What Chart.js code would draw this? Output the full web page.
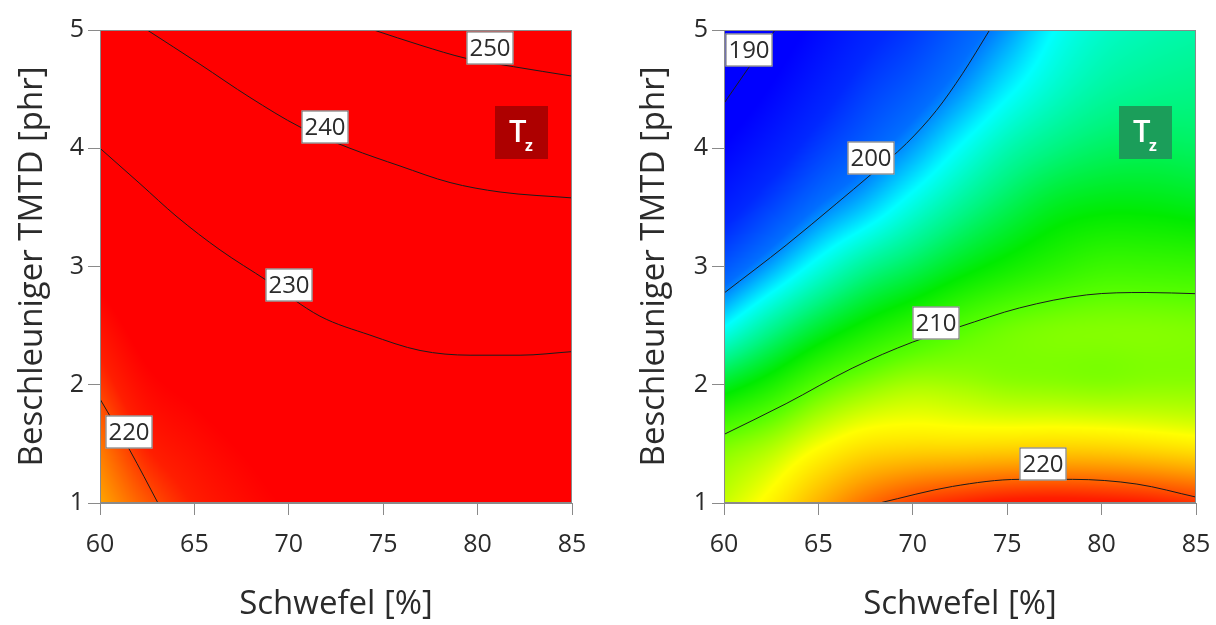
<!DOCTYPE html>
<html>
<head>
<meta charset="utf-8">
<script src="https://cdn.jsdelivr.net/npm/chart.js@4.4.1/dist/chart.umd.min.js"></script>
<style>
  html, body { margin: 0; padding: 0; background: #fff; }
  #wrap { position: relative; width: 1216px; height: 625px; overflow: hidden; }
  canvas { position: absolute; top: 0; }
  #left { left: 0; }
  #right { left: 608px; }
</style>
</head>
<body>
<div id="wrap">
  <canvas id="left" width="608" height="625"></canvas>
  <canvas id="right" width="618" height="625"></canvas>
</div>
<script>
// grid of the response surface
const schwefelGrid = [60, 62.5, 65, 67.5, 70, 72.5, 75, 77.5, 80, 82.5, 85];
const tmtdGrid = [1, 1.5, 2, 2.5, 3, 3.5, 4, 4.5, 5];
const xTicks = [60, 65, 70, 75, 80, 85];
const yTicks = [1, 2, 3, 4, 5];

// left panel, one row per TMTD value
const leftField = [
  [216.5, 219.4, 221.6, 223.0, 224.2, 225.0, 225.6, 226.0, 226.2, 226.2, 226.0],
  [218.3, 221.6, 223.0, 224.2, 225.3, 226.2, 226.8, 227.2, 227.4, 227.3, 227.1],
  [220.5, 223.4, 224.6, 225.7, 226.8, 227.7, 228.4, 228.6, 228.6, 228.6, 228.5],
  [222.6, 225.2, 226.4, 227.6, 228.8, 230.2, 231.1, 231.4, 231.6, 231.6, 231.2],
  [225.0, 227.2, 228.6, 230.0, 231.6, 233.4, 234.3, 234.9, 235.3, 235.5, 235.2],
  [227.5, 229.5, 231.4, 233.2, 235.0, 236.6, 237.6, 238.4, 238.9, 239.3, 239.4],
  [230.0, 232.4, 234.6, 236.6, 238.6, 239.7, 240.6, 242.1, 243.2, 243.8, 244.1],
  [232.5, 235.8, 238.2, 240.0, 242.2, 243.3, 245.0, 246.4, 247.8, 248.4, 248.9],
  [235.0, 240.0, 241.8, 243.5, 245.8, 247.6, 250.2, 251.3, 252.5, 253.2, 253.8],
];

// right panel, one row per TMTD value
const rightField = [
  [212.0, 213.5, 216.0, 218.5, 220.3, 221.3, 222.0, 222.2, 222.0, 221.6, 220.8],
  [210.5, 211.4, 212.8, 213.9, 214.2, 214.2, 214.3, 214.4, 214.3, 214.0, 213.6],
  [206.8, 208.2, 209.8, 210.8, 211.4, 211.3, 211.0, 210.9, 210.8, 210.9, 210.9],
  [202.2, 204.5, 206.4, 207.8, 208.8, 209.7, 210.3, 210.6, 210.7, 210.7, 210.6],
  [198.3, 200.6, 202.8, 204.6, 205.8, 207.0, 207.9, 208.6, 209.1, 209.1, 209.0],
  [195.0, 197.4, 199.6, 201.2, 203.0, 204.6, 205.9, 206.9, 207.3, 207.3, 207.1],
  [192.2, 194.6, 197.0, 198.8, 200.5, 202.4, 204.0, 205.0, 205.6, 205.8, 205.7],
  [189.6, 192.2, 194.8, 197.0, 198.5, 200.2, 202.0, 203.4, 204.3, 204.7, 204.9],
  [187.5, 190.1, 192.8, 195.2, 196.8, 198.6, 200.3, 202.3, 203.4, 203.9, 204.2],
];

// contour lines [schwefel, tmtd]
const left250 = [[74.5, 5], [77, 4.87], [79.4, 4.76], [81.9, 4.69], [85, 4.61]];
const left240 = [[62.5, 5], [65.3, 4.71], [67.94, 4.43], [70.59, 4.18], [73.24, 4.0], [75.89, 3.85], [78.54, 3.71], [81.19, 3.63], [85, 3.58]];
const left230 = [[60, 4.0], [62.12, 3.7], [64.08, 3.42], [66.36, 3.14], [68.85, 2.88], [71.65, 2.58], [74.3, 2.42], [76.95, 2.29], [79.6, 2.25], [82.25, 2.25], [85, 2.28]];
const left220 = [[60, 1.88], [61.6, 1.44], [63.07, 1.0]];

const right190 = [[60, 4.38], [61.3, 4.68], [62.7, 5]];
const right200 = [[60, 2.775], [63.29, 3.18], [65.94, 3.53], [67.8, 3.78], [69.66, 4.04], [71.25, 4.32], [72.63, 4.63], [74.07, 5]];
const right210 = [[60, 1.58], [63.29, 1.84], [66.79, 2.14], [69.98, 2.36], [72.47, 2.49], [75.66, 2.65], [79.21, 2.76], [82.4, 2.78], [85, 2.77]];
const right220 = [[68.23, 1.0], [72.1, 1.14], [75.66, 1.2], [78.47, 1.2], [81.87, 1.16], [85, 1.05]];

// contour labels
const leftLabelText = ["250", "240", "230", "220"];
const leftLabelX = [80.66, 71.9, 70.0, 61.54];
const leftLabelY = [4.85, 4.18, 2.84, 1.6];
const rightLabelText = ["190", "200", "210", "220"];
const rightLabelX = [61.3, 67.8, 71.23, 76.88];
const rightLabelY = [4.83, 3.92, 2.52, 1.33];

// rainbow colour scale used by both panels
const colorStops = [
  [192, 0, 0, 255],
  [196, 0, 40, 255],
  [199.5, 0, 110, 255],
  [202.3, 0, 255, 255],
  [205, 0, 245, 130],
  [207.5, 0, 235, 0],
  [210, 90, 255, 0],
  [213, 255, 255, 0],
  [216.5, 255, 165, 0],
  [219.5, 255, 85, 0],
  [221.5, 255, 30, 0],
  [224, 255, 0, 0],
];

const FONT = "'Open Sans', 'Noto Sans', sans-serif";
const TEXT = "#2b2b2b";

function colorFor(v) {
  if (v <= colorStops[0][0]) return colorStops[0].slice(1);
  for (let k = 1; k < colorStops.length; k++) {
    const b = colorStops[k];
    if (v <= b[0]) {
      const a = colorStops[k - 1];
      const t = (v - a[0]) / (b[0] - a[0]);
      return [a[1] + (b[1] - a[1]) * t, a[2] + (b[2] - a[2]) * t, a[3] + (b[3] - a[3]) * t];
    }
  }
  return colorStops[colorStops.length - 1].slice(1);
}

function cr(p0, p1, p2, p3, t) {
  return 0.5 * (2 * p1 + (-p0 + p2) * t + (2 * p0 - 5 * p1 + 4 * p2 - p3) * t * t + (-p0 + 3 * p1 - 3 * p2 + p3) * t * t * t);
}

function pick(arr, k) {
  const n = arr.length;
  if (k < 0) return 2 * arr[0] - arr[1];
  if (k >= n) return 2 * arr[n - 1] - arr[n - 2];
  return arr[k];
}

function sampleField(rows, xv, yv) {
  const nx = schwefelGrid.length, ny = tmtdGrid.length;
  const fx = Math.min(Math.max((xv - schwefelGrid[0]) / (schwefelGrid[1] - schwefelGrid[0]), 0), nx - 1);
  const fy = Math.min(Math.max((yv - tmtdGrid[0]) / (tmtdGrid[1] - tmtdGrid[0]), 0), ny - 1);
  const i = Math.min(Math.floor(fx), nx - 2);
  const j = Math.min(Math.floor(fy), ny - 2);
  const tx = fx - i, ty = fy - j;
  const col = [];
  for (let m = -1; m <= 2; m++) {
    const jj = Math.min(Math.max(j + m, 0), ny - 1);
    const r = rows[jj];
    col.push(cr(pick(r, i - 1), r[i], r[i + 1], pick(r, i + 2), tx));
  }
  // ghost rows extrapolated linearly
  if (j - 1 < 0) col[0] = 2 * col[1] - col[2];
  if (j + 2 > ny - 1) col[3] = 2 * col[2] - col[1];
  return cr(col[0], col[1], col[2], col[3], ty);
}

const fieldPlugin = {
  id: "field",
  beforeDatasetsDraw(chart, args, opts) {
    const { ctx, chartArea: a, scales: { x, y } } = chart;
    const w = Math.round(a.right - a.left);
    const h = Math.round(a.bottom - a.top);
    const off = document.createElement("canvas");
    off.width = w;
    off.height = h;
    const octx = off.getContext("2d");
    const img = octx.createImageData(w, h);
    for (let j = 0; j < h; j++) {
      const yv = y.getValueForPixel(a.top + j + 0.5);
      for (let i = 0; i < w; i++) {
        const xv = x.getValueForPixel(a.left + i + 0.5);
        const c = colorFor(sampleField(opts.rows, xv, yv));
        const p = (j * w + i) * 4;
        img.data[p] = c[0];
        img.data[p + 1] = c[1];
        img.data[p + 2] = c[2];
        img.data[p + 3] = 255;
      }
    }
    octx.putImageData(img, 0, 0);
    ctx.drawImage(off, a.left, a.top);
  },
  afterDatasetsDraw(chart, args, opts) {
    const { ctx, chartArea: a, scales: { x, y } } = chart;
    ctx.save();
    // frame
    ctx.strokeStyle = "#8a8a8a";
    ctx.lineWidth = 1;
    ctx.strokeRect(a.left + 0.5, a.top + 0.5, a.right - a.left - 1, a.bottom - a.top - 1);

    // contour labels
    ctx.font = "24px " + FONT;
    ctx.textAlign = "center";
    ctx.textBaseline = "middle";
    opts.labels.forEach((txt, k) => {
      const cx = Math.round(x.getPixelForValue(opts.labelX[k]));
      const cy = Math.round(y.getPixelForValue(opts.labelY[k]));
      const bw = 47, bh = 33;
      ctx.fillStyle = "#ffffff";
      ctx.fillRect(cx - bw / 2, cy - bh / 2, bw, bh);
      ctx.strokeStyle = "#666666";
      ctx.strokeRect(cx - bw / 2 + 0.5, cy - bh / 2 + 0.5, bw - 1, bh - 1);
      ctx.fillStyle = TEXT;
      ctx.fillText(txt, cx, cy + 1);
    });

    // T_z badge
    const bx = x.getPixelForValue(opts.badgeX);
    const by = y.getPixelForValue(opts.badgeY);
    const s = 53;
    ctx.fillStyle = opts.badgeColor;
    ctx.fillRect(Math.round(bx - s / 2), Math.round(by - s / 2), s, s);
    ctx.fillStyle = "#ffffff";
    ctx.textAlign = "left";
    ctx.textBaseline = "alphabetic";
    ctx.font = "600 31px " + FONT;
    ctx.fillText("T", bx - 12, by + 9);
    ctx.font = "700 16px " + FONT;
    ctx.fillText("z", bx + 4, by + 18);
    ctx.restore();
  },
};

function toPoints(list) {
  return list.map(([sx, ty]) => ({ x: sx, y: ty }));
}

function makePanel(id, cfg) {
  const canvas = document.getElementById(id);
  return new Chart(canvas, {
    type: "scatter",
    data: {
      datasets: cfg.contours.map((c) => ({
        data: toPoints(c),
        showLine: true,
        borderColor: "#1c1c1c",
        borderWidth: 1,
        pointRadius: 0,
        cubicInterpolationMode: "monotone",
        fill: false,
      })),
    },
    options: {
      responsive: false,
      animation: false,
      devicePixelRatio: 1,
      layout: { padding: { top: 30, right: cfg.padRight, left: 0, bottom: 0 } },
      plugins: {
        legend: { display: false },
        tooltip: { enabled: false },
        field: {
          rows: cfg.rows,
          labels: cfg.labels,
          labelX: cfg.labelX,
          labelY: cfg.labelY,
          badgeX: 82.3,
          badgeY: 4.13,
          badgeColor: cfg.badgeColor,
        },
      },
      scales: {
        x: {
          type: "linear",
          min: 60,
          max: 85,
          afterBuildTicks: (s) => { s.ticks = xTicks.map((v) => ({ value: v })); },
          afterFit: (s) => { s.height = 122; },
          grid: { display: true, drawOnChartArea: false, drawTicks: true, tickLength: 12, color: "#8a8a8a" },
          border: { display: true, color: "#8a8a8a" },
          ticks: { color: TEXT, font: { family: FONT, size: 25 }, padding: 15, maxRotation: 0 },
          title: { display: true, text: "Schwefel [%]", color: TEXT, font: { family: FONT, size: 33 }, padding: { top: 0, bottom: 1 } },
        },
        y: {
          type: "linear",
          min: 1,
          max: 5,
          afterBuildTicks: (s) => { s.ticks = yTicks.map((v) => ({ value: v })); },
          afterFit: (s) => { s.width = cfg.axisWidth; },
          grid: { display: true, drawOnChartArea: false, drawTicks: true, tickLength: 12, color: "#8a8a8a" },
          border: { display: true, color: "#8a8a8a" },
          ticks: { color: TEXT, font: { family: FONT, size: 25 }, padding: 4 },
          title: { display: true, text: "Beschleuniger TMTD [phr]", color: TEXT, font: { family: FONT, size: 33 }, padding: { top: cfg.titlePad, bottom: 0 } },
        },
      },
    },
    plugins: [fieldPlugin],
  });
}

makePanel("left", {
  rows: leftField,
  contours: [left250, left240, left230, left220],
  labels: leftLabelText,
  labelX: leftLabelX,
  labelY: leftLabelY,
  badgeColor: "#ad0000",
  axisWidth: 100,
  padRight: 36,
  titlePad: 13,
});

makePanel("right", {
  rows: rightField,
  contours: [right190, right200, right210, right220],
  labels: rightLabelText,
  labelX: rightLabelX,
  labelY: rightLabelY,
  badgeColor: "#1b9e5a",
  axisWidth: 116,
  padRight: 30,
  titlePad: 27,
});
</script>
</body>
</html>
